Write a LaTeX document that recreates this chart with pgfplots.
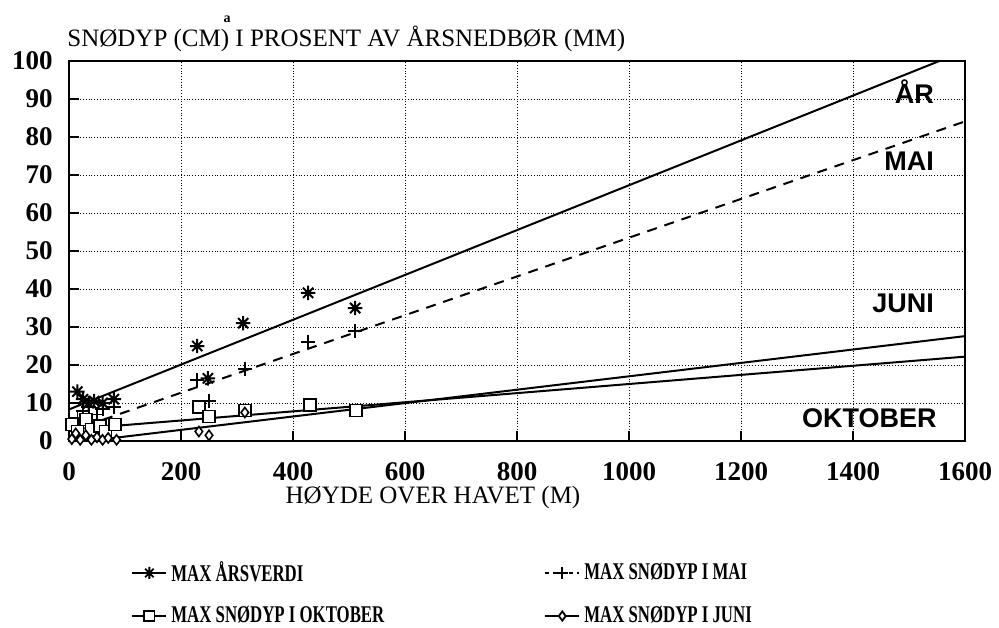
\documentclass[border=0pt]{standalone}
\usepackage{fontspec}
\setmainfont{Liberation Serif}
\newfontfamily\legfont[FakeStretch=0.7]{Liberation Serif}
\newfontfamily\lblfont{Liberation Sans}
\usepackage{pgfplots}
\pgfplotsset{compat=1.18}

\pgfdeclareplotmark{ast8}{%
  \pgfpathmoveto{\pgfqpoint{-\pgfplotmarksize}{0pt}}%
  \pgfpathlineto{\pgfqpoint{\pgfplotmarksize}{0pt}}%
  \pgfpathmoveto{\pgfqpoint{0pt}{-\pgfplotmarksize}}%
  \pgfpathlineto{\pgfqpoint{0pt}{\pgfplotmarksize}}%
  \pgfpathmoveto{\pgfqpoint{-0.707\pgfplotmarksize}{-0.707\pgfplotmarksize}}%
  \pgfpathlineto{\pgfqpoint{0.707\pgfplotmarksize}{0.707\pgfplotmarksize}}%
  \pgfpathmoveto{\pgfqpoint{-0.707\pgfplotmarksize}{0.707\pgfplotmarksize}}%
  \pgfpathlineto{\pgfqpoint{0.707\pgfplotmarksize}{-0.707\pgfplotmarksize}}%
  \pgfusepathqstroke}

\begin{document}
\begin{tikzpicture}[x=1pt,y=1pt]
\path[use as bounding box] (0,0) rectangle (499.5,313.5);
\begin{axis}[
  at={(34.5pt,93pt)}, anchor=south west,
  width=448pt, height=190pt, scale only axis,
  xmin=0, xmax=1600, ymin=0, ymax=100,
  xtick={0,200,...,1600}, ytick={0,10,...,100},
  tick align=inside, tick pos=left, major tick length=5pt,
  every tick/.style={black, line width=0.9pt},
  axis line style={line width=1pt},
  grid=major, major grid style={densely dotted, line width=0.45pt, black},
  /pgf/number format/assume math mode=true,
  /pgf/number format/1000 sep={},
  ticklabel style={font=\bfseries\fontsize{13.5}{13.5}\selectfont},
  xticklabel style={anchor=north, inner sep=0pt, yshift=-10.5pt},
  yticklabel style={anchor=east, inner sep=0pt, xshift=-8pt},
  legend columns=2,
  legend cell align=left,
  legend style={at={(0.0625,-0.295)}, anchor=north west, draw=none, fill=none,
    font=\legfont\bfseries\fontsize{12}{13}\selectfont, row sep=7pt,
    /tikz/column 2/.style={column sep=78pt}},
]
% fitted lines
\addplot[black, line width=1pt, forget plot] coordinates {(0,8.3) (1600,102.7)};
\addplot[black, line width=1pt, dash pattern=on 5pt off 4pt, forget plot] coordinates {(0,2.5) (1600,84.1)};
\addplot[black, line width=1pt, forget plot] coordinates {(0,3.0) (1600,22.2)};
\addplot[black, line width=1pt, forget plot] coordinates {(34,0) (1600,27.6)};

% MAX ARSVERDI
\addplot[only marks, mark=ast8, mark size=3.6pt, line width=1pt, black, forget plot] coordinates {
 (15,13) (25,11) (35,10) (45,10.5) (60,10) (80,11)
 (229,25) (248,16.5) (311,31) (427,39) (511,35)};
% MAI
\addplot[only marks, mark=+, mark size=3.6pt, line width=0.9pt, black, forget plot] coordinates {
 (8,3) (15,6) (25,8) (35,9) (50,7) (60,8.5) (80,9)
 (229,16) (250,10.5) (314,19) (427,26) (511,29)};
% OKTOBER
\addplot[only marks, mark=square*, mark size=3pt, line width=0.8pt, black, mark options={fill=white}, forget plot] coordinates {
 (5,4.3) (15,2.5) (30,5.7) (40,3) (55,3.9) (65,2.5) (82,4.3)
 (232,9) (250,6.5) (314,8) (430,9.5) (512,8)};
% JUNI
\addplot[only marks, mark=diamond*, mark size=2.5pt, line width=0.8pt, black, mark options={fill=white}, forget plot] coordinates {
 (5,0.5) (12,2) (20,0.3) (30,1.5) (40,0.3) (50,1) (60,0.3) (70,0.8) (85,0.3)
 (232,2.5) (250,1.5) (314,7.5)};

\addlegendimage{black, line width=0.9pt, mark=ast8, mark size=3pt}
\addlegendentry{MAX ÅRSVERDI}
\addlegendimage{black, line width=0.9pt, dash pattern=on 2pt off 2pt, mark=+, mark size=3pt, mark options={solid}}
\addlegendentry{MAX SNØDYP I MAI}
\addlegendimage{black, line width=0.9pt, mark=square*, mark size=2.6pt, mark options={fill=white}}
\addlegendentry{MAX SNØDYP I OKTOBER}
\addlegendimage{black, line width=0.9pt, mark=diamond*, mark size=2.3pt, mark options={fill=white}}
\addlegendentry{MAX SNØDYP I JUNI}

\node[anchor=east, inner sep=0pt, font=\lblfont\bfseries\fontsize{13.5}{14}\selectfont] at (axis cs:1545,92) {ÅR};
\node[anchor=east, inner sep=0pt, font=\lblfont\bfseries\fontsize{13.5}{14}\selectfont] at (axis cs:1545,73.5) {MAI};
\node[anchor=east, inner sep=0pt, font=\lblfont\bfseries\fontsize{13.5}{14}\selectfont] at (axis cs:1545,36.3) {JUNI};
\node[anchor=east, inner sep=0pt, font=\lblfont\bfseries\fontsize{13.5}{14}\selectfont] at (axis cs:1550,5.9) {OKTOBER};
\end{axis}
\node[anchor=base west, inner sep=0pt, font=\fontsize{12.5}{14}\selectfont] at (33.5,290) {SNØDYP (CM) I PROSENT AV ÅRSNEDBØR (MM)};
\node[anchor=base, inner sep=0pt, font=\bfseries\fontsize{7}{8}\selectfont] at (113.5,302) {a};
\node[anchor=base, inner sep=0pt, font=\fontsize{12.5}{14}\selectfont] at (216.5,62) {HØYDE OVER HAVET (M)};
\end{tikzpicture}
\end{document}
